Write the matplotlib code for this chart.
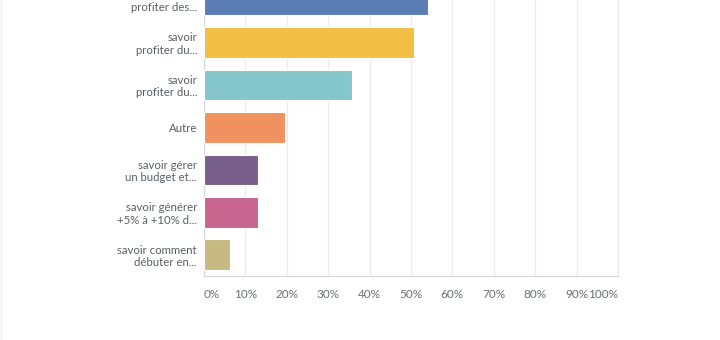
import matplotlib.pyplot as plt
import numpy as np

# --- Data ---
labels = [
    "savoir\nprofiter des...",
    "savoir\nprofiter du...",
    "savoir\nprofiter du...",
    "Autre",
    "savoir gérer\nun budget et...",
    "savoir générer\n+5% à +10% d...",
    "savoir comment\ndébuter en...",
]
values = [54.2, 50.8, 35.8, 19.6, 13.0, 13.0, 6.3]
colors = ["#5b7db3", "#f0bf43", "#84c6cb", "#f09160", "#785f8b", "#c8668f", "#c6ba82"]
xticks = [0, 10, 20, 30, 40, 50, 60, 70, 80, 90, 100]
xticklabels = [f"{t}%" for t in xticks]

plt.rcParams['font.family'] = ['Lato', 'DejaVu Sans']

fig = plt.figure(figsize=(7.2, 3.4), dpi=100)
ax = fig.add_axes([204 / 720, 64 / 340, 414 / 720, 276 / 340])

pos = np.arange(len(labels))
ax.barh(pos, values, height=0.72, color=colors, edgecolor="#ffffff", linewidth=0.8, zorder=3)

ax.set_xlim(0, 100)
ax.set_ylim(6.5, 0.12)

ax.set_yticks(pos)
ax.set_yticklabels(labels, fontsize=8.2, color="#5a5f66", linespacing=1.15)
ax.set_xticks(xticks)
ax.set_xticklabels(xticklabels, fontsize=8.5, color="#6b6f75")
xt = ax.get_xticklabels()
xt[0].set_horizontalalignment("left")
xt[-1].set_horizontalalignment("right")
ax.tick_params(axis="y", length=0, pad=5)
ax.tick_params(axis="x", length=0, pad=9)

ax.grid(axis="x", color="#ececec", linewidth=1, zorder=0)
ax.spines["top"].set_visible(False)
ax.spines["right"].set_color("#ececec")
ax.spines["left"].set_color("#d6d6d6")
ax.spines["bottom"].set_color("#d6d6d6")

# faint card border on the left edge
fig.add_artist(plt.Line2D([0.001, 0.001], [0, 1], color="#ededed", linewidth=1))

fig.savefig("out.png", dpi=100)
